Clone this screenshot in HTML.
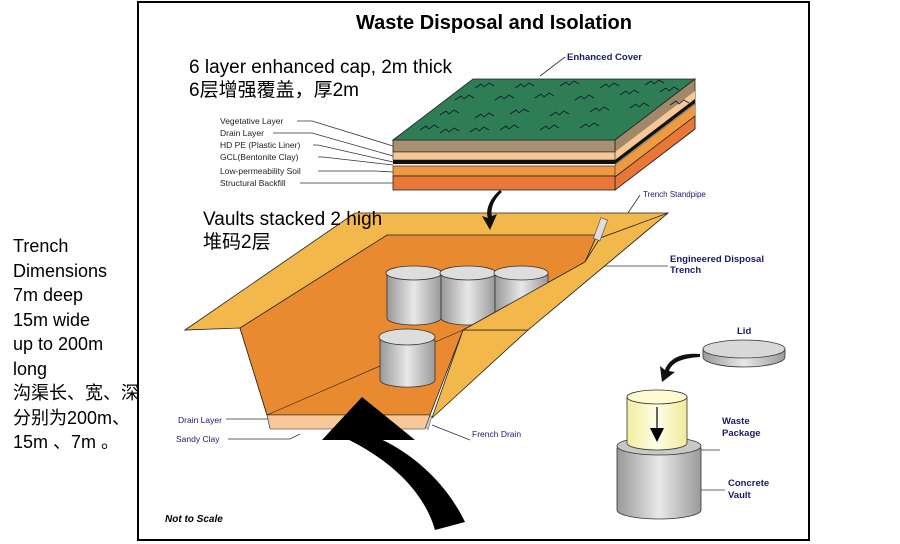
<!DOCTYPE html>
<html><head><meta charset="utf-8"><style>
body{margin:0;width:900px;height:544px;background:#fff;overflow:hidden;position:relative;font-family:"Liberation Sans","Noto Sans CJK SC",sans-serif}
.t{position:absolute;color:#000;white-space:nowrap}
</style></head><body>
<svg width="900" height="544" style="position:absolute;left:0;top:0" font-family="Liberation Sans, sans-serif">
<defs>
<linearGradient id="g" x1="0" x2="1"><stop offset="0" stop-color="#999"/><stop offset="0.5" stop-color="#e8e8e8"/><stop offset="1" stop-color="#9a9a9a"/></linearGradient>
<linearGradient id="y" x1="0" x2="1"><stop offset="0" stop-color="#f3eea0"/><stop offset="0.5" stop-color="#fffde8"/><stop offset="1" stop-color="#f1ea98"/></linearGradient>
</defs>
<rect x="138" y="2" width="671" height="538" fill="#fff" stroke="#000" stroke-width="2"/>
<text x="494" y="29" font-size="20" font-weight="bold" text-anchor="middle">Waste Disposal and Isolation</text>
<!-- cap -->
<polygon points="615,140 695,79 695,129 615,190" fill="#a08868" stroke="#222" stroke-width="0.8"/>
<polygon points="615,152 695,91 695,99 615,160" fill="#f6c896"/>
<polygon points="615,160 695,99 695,103 615,164" fill="#111"/>
<polygon points="615,166 695,105 695,116 615,177" fill="#ef9a40"/>
<polygon points="615,177 695,116 695,129 615,190" fill="#e97838" stroke="#222" stroke-width="0.8"/>
<rect x="393" y="140" width="222" height="12" fill="#a89070" stroke="#222" stroke-width="0.8"/>
<rect x="393" y="152" width="222" height="8" fill="#f6c896" stroke="#222" stroke-width="0.6"/>
<rect x="393" y="160" width="222" height="4" fill="#111"/>
<rect x="393" y="164" width="222" height="2" fill="#eee"/>
<rect x="393" y="166" width="222" height="10" fill="#ef9a40" stroke="#222" stroke-width="0.6"/>
<rect x="393" y="176" width="222" height="14" fill="#e97838" stroke="#222" stroke-width="0.8"/>
<polygon points="393,140 473,79 695,79 615,140" fill="#2e7d55" stroke="#222" stroke-width="0.8"/>
<g stroke="#113" stroke-width="0.8" fill="none">
<path d="M420,130 l6,-4 l3,3 l5,-4 l5,3 M440,133 l6,-4 l3,3 l5,-4 l5,3 M470,132 l6,-4 l3,3 l5,-4 l5,3 M500,130 l6,-4 l3,3 l5,-4 l5,3 M540,130 l6,-4 l3,3 l5,-4 l5,3 M580,128 l6,-4 l3,3 l5,-4 l5,3
M440,115 l6,-4 l3,3 l5,-4 l5,3 M475,118 l6,-4 l3,3 l5,-4 l5,3 M510,114 l6,-4 l3,3 l5,-4 l5,3 M550,116 l6,-4 l3,3 l5,-4 l5,3 M590,112 l6,-4 l3,3 l5,-4 l5,3 M630,108 l6,-4 l3,3 l5,-4 l5,3
M455,100 l6,-4 l3,3 l5,-4 l5,3 M495,100 l6,-4 l3,3 l5,-4 l5,3 M535,98 l6,-4 l3,3 l5,-4 l5,3 M575,100 l6,-4 l3,3 l5,-4 l5,3 M620,95 l6,-4 l3,3 l5,-4 l5,3 M660,92 l6,-4 l3,3 l5,-4 l5,3
M475,88 l6,-4 l3,3 l5,-4 l5,3 M515,88 l6,-4 l3,3 l5,-4 l5,3 M560,86 l6,-4 l3,3 l5,-4 l5,3 M600,88 l6,-4 l3,3 l5,-4 l5,3 M645,85 l6,-4 l3,3 l5,-4 l5,3 M670,105 l6,-4 l3,3 l5,-4 l5,3"/>
</g>
<g stroke="#333" stroke-width="0.8" fill="none">
<path d="M297,121 H312 L393,146"/><path d="M273,133 H312 L393,156"/><path d="M313,145 H318 L393,162"/><path d="M318,157 H323 L393,165"/><path d="M318,171 H375 L393,172"/><path d="M300,183 H377 L393,183"/>
<path d="M540,76 L565,57"/><path d="M610,240 L640,195"/><path d="M605,266 L668,266"/>
<path d="M226,419 H280"/><path d="M228,439 H290 L300,434"/><path d="M432,425 L470,440"/>
<path d="M690,450 H720"/><path d="M680,490 H725"/>
</g>
<g font-size="8.5" fill="#222">
<text x="220" y="124">Vegetative Layer</text><text x="220" y="136">Drain Layer</text><text x="220" y="148">HD PE (Plastic Liner)</text><text x="220" y="160">GCL(Bentonite Clay)</text><text x="220" y="174">Low-permeability Soil</text><text x="220" y="186">Structural Backfill</text>
</g>
<g font-size="9.5" font-weight="bold" fill="#1a1a6a">
<text x="567" y="60">Enhanced Cover</text>
<text x="643" y="197" font-size="8" font-weight="normal">Trench Standpipe</text>
<text x="670" y="262">Engineered Disposal</text><text x="670" y="273">Trench</text>
<text x="178" y="423" font-weight="normal" font-size="8.5">Drain Layer</text>
<text x="176" y="442" font-weight="normal" font-size="8.5">Sandy Clay</text>
<text x="472" y="437" font-weight="normal" font-size="8.5">French Drain</text>
<text x="737" y="334">Lid</text>
<text x="722" y="424">Waste</text><text x="722" y="436">Package</text>
<text x="728" y="486">Concrete</text><text x="728" y="498">Vault</text>
</g>
<text x="165" y="522" font-size="10" font-weight="bold" font-style="italic">Not to Scale</text>
<!-- trench -->
<polygon points="185,330 355,213 668,213 528,330 460,330 430,415 267,415 240,328" fill="#f3b84c" stroke="#222" stroke-width="0.8"/>
<polygon points="240,328 387,235 597,235 585,262 463,330 430,415 267,415" fill="#ea8a30" stroke="#222" stroke-width="0.8"/>
<line x1="267" y1="415" x2="463" y2="330" stroke="#222" stroke-width="0.6"/>
<polygon points="463,330 528,330 432,418" fill="#f3b84c" stroke="#222" stroke-width="0.8"/>
<polygon points="418,416 432,416 428,430" fill="#ccc" stroke="#555" stroke-width="0.5"/>
<polygon points="267,415 430,415 425,429 270,429" fill="#f8c89a" stroke="#222" stroke-width="0.6"/>
<!-- cylinders -->
<g stroke="#333" stroke-width="0.8">
<path d="M387,275 V318 A27,7 0 0 0 441,318 V275 Z" fill="url(#g)"/><ellipse cx="414" cy="273" rx="28" ry="7" fill="#ddd"/>
<path d="M441,275 V318 A27,7 0 0 0 495,318 V275 Z" fill="url(#g)"/><ellipse cx="468" cy="273" rx="28" ry="7" fill="#ddd"/>
<path d="M495,275 V312 A27,7 0 0 0 548,312 V275 Z" fill="url(#g)"/><ellipse cx="521" cy="273" rx="27" ry="7" fill="#ddd"/>
<path d="M380,340 V380 A27,7 0 0 0 435,380 V340 Z" fill="url(#g)"/><ellipse cx="407" cy="337" rx="28" ry="8" fill="#ddd"/>
</g>
<!-- right flange -->
<polygon points="463,330 585,262 600,238 668,213 528,330" fill="#f3b84c" stroke="#222" stroke-width="0.8"/>
<line x1="585" y1="262" x2="597" y2="235" stroke="#222" stroke-width="0.6"/>
<rect x="597" y="218" width="7" height="22" fill="#ddd" stroke="#444" stroke-width="0.6" transform="rotate(20 600 229)"/>
<!-- big arrow -->
<path d="M465,522 C440,470 395,445 378,438 L345,438 C395,462 425,495 435,530 Z" fill="#000"/>
<polygon points="362,397 322,440 415,440" fill="#000"/>
<path d="M500,190 C490,198 485,210 488,218 L482,216 L490,230 L497,214 L492,216 C490,208 495,198 502,192 Z" fill="#111"/>
<!-- vault -->
<path d="M700,354 C680,352 668,360 665,370 L660,366 L662,382 L675,372 L669,371 C672,362 683,358 700,357 Z" fill="#111"/>
<path d="M703,349 V357 A41,10 0 0 0 785,357 V349 Z" fill="url(#g)" stroke="#333" stroke-width="0.8"/>
<ellipse cx="744" cy="349" rx="41" ry="9" fill="#d8d8d8" stroke="#333" stroke-width="0.8"/>
<path d="M617,448 V510 A42,9 0 0 0 701,510 V448 Z" fill="url(#g)" stroke="#333" stroke-width="0.8"/>
<ellipse cx="659" cy="446" rx="42" ry="9" fill="#c8c8c8" stroke="#333" stroke-width="0.8"/>
<path d="M627,397 V443 A30,7 0 0 0 687,443 V397 Z" fill="url(#y)" stroke="#333" stroke-width="0.8"/>
<ellipse cx="657" cy="397" rx="30" ry="7" fill="#fffbd0" stroke="#333" stroke-width="0.8"/>
<line x1="657" y1="407" x2="657" y2="432" stroke="#000" stroke-width="1.2"/><polygon points="650,428 664,428 657,442" fill="#000"/>
</svg>
<div class="t" style="left:189px;top:56px;font-size:19px;line-height:23px">6 layer enhanced cap, 2m thick<br>6层增强覆盖，厚2m</div>
<div class="t" style="left:203px;top:208px;font-size:19px;line-height:23px">Vaults stacked 2 high<br>堆码2层</div>
<div class="t" style="left:13px;top:234px;font-size:18px;line-height:24.5px">Trench<br>Dimensions<br>7m deep<br>15m wide<br>up to 200m<br>long<br>沟渠长、宽、深<br>分别为200m、<br>15m 、7m 。</div>
</body></html>
